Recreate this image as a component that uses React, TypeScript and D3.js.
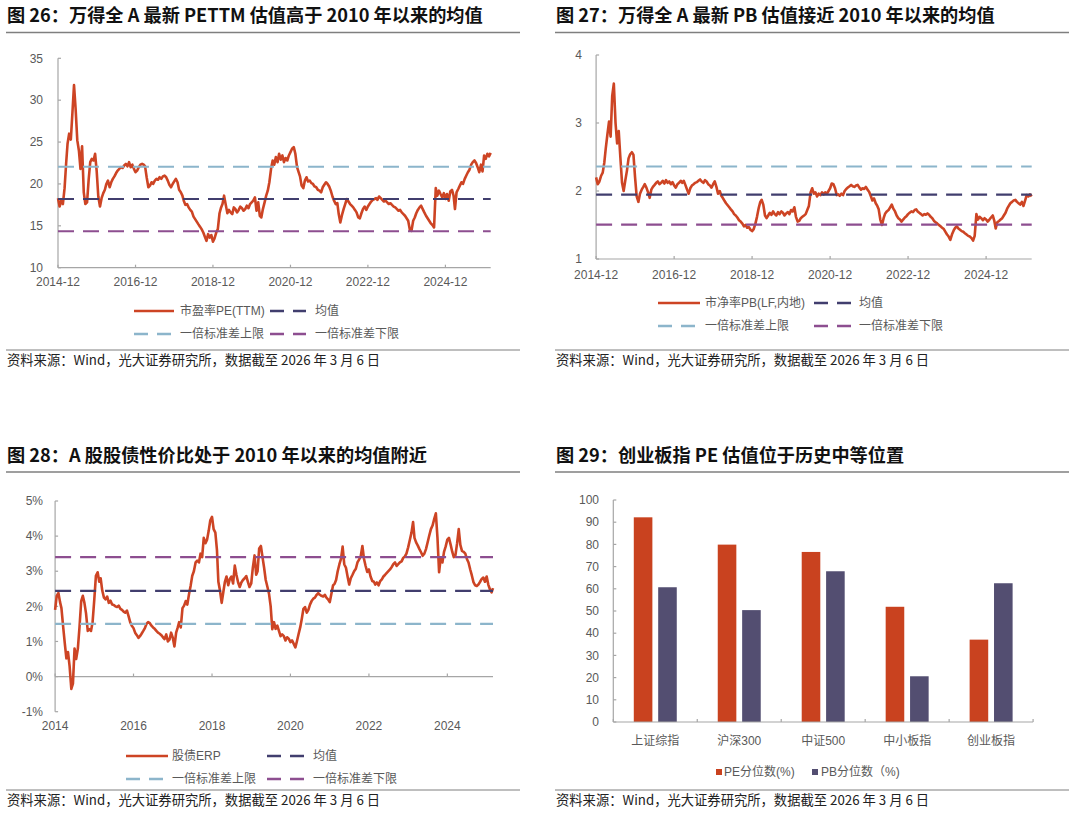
import React from 'react';
import * as d3 from 'd3';

const FONT = '"Liberation Sans", Arial, "Noto Sans CJK SC", sans-serif';
const CJK_FONT = '"Noto Sans CJK SC", "Liberation Sans", sans-serif';

const SERIES = '#cd4424';
const MEAN = '#413e6e';
const BLUE = '#8cb5cb';
const PURPLE = '#8d4e90';
const AXIS = '#a6a6a6';
const TICK_TEXT = '#595959';
const DASH = '16 9';

// semi-monthly samples (1st and 16th of each month)
const halfMonth = (start: [number, number], i: number) =>
  new Date(start[0], start[1] + Math.floor(i / 2), i % 2 ? 16 : 1);

// ---------- Fig 26: Wind All A PE(TTM), from 2014-12 ----------
const peStart: [number, number] = [2014, 11];
const peTtm = [
  18.3, 17.3, 18.0, 17.6, 19.5, 22.5, 24.8, 26.0, 25.3, 28.5,
  31.8, 29.0, 25.2, 24.0, 21.8, 24.5, 19.0, 17.6, 17.8, 20.5,
  22.6, 23.0, 22.8, 23.6, 21.5, 18.5, 17.3, 18.3, 18.9, 19.3,
  20.0, 20.4, 19.6, 20.2, 20.6, 20.9, 21.3, 21.6, 21.8, 22.0,
  21.9, 22.2, 22.4, 22.1, 22.6, 22.0, 22.3, 21.8, 21.4, 21.6,
  22.0, 22.3, 22.4, 22.3, 22.1, 20.8, 19.6, 19.8, 20.2, 20.0,
  20.4, 20.6, 20.5, 20.8, 20.6, 20.9, 21.0, 20.8, 20.4, 19.9,
  19.6, 20.0, 20.3, 20.6, 20.2, 19.3, 19.0, 18.6, 18.0, 17.5,
  17.6, 17.2, 16.9, 16.7, 16.1, 15.8, 15.5, 15.2, 14.9, 14.6,
  14.2, 13.7, 13.2, 14.0, 13.6, 13.9, 13.1, 13.5, 14.2, 14.6,
  16.5, 17.2, 17.6, 18.6, 17.5, 16.5, 16.9, 16.6, 16.4, 17.2,
  17.0, 16.6, 16.9, 17.3, 17.1, 16.8, 17.0, 17.4, 17.1, 17.6,
  17.8, 18.0, 18.4, 16.8, 17.8, 16.2, 16.0, 17.0, 17.8, 18.6,
  19.2, 20.2, 21.8, 22.8, 22.3, 23.2, 22.6, 23.6, 22.9, 23.4,
  22.6, 23.1, 22.8, 23.4, 23.8, 24.2, 24.4, 23.6, 22.0, 21.4,
  20.9, 19.8, 19.5, 20.4, 20.8, 20.3, 20.4, 20.1, 20.0, 19.7,
  19.6, 19.3, 19.2, 19.0, 19.6, 19.9, 20.2, 20.0, 19.7, 19.2,
  18.5, 18.0, 17.6, 17.7, 16.4, 15.4, 16.3, 17.0, 17.6, 18.2,
  17.9, 17.6, 17.4, 17.2, 16.9, 16.6, 16.0, 15.9, 16.5, 17.0,
  17.3, 16.9, 17.3, 17.6, 17.9, 18.1, 18.2, 18.3, 18.1, 18.5,
  18.3, 18.1, 17.9, 18.0, 17.8, 17.6, 17.7, 17.5, 17.3, 17.2,
  17.0, 16.8, 16.9, 16.6, 16.4, 16.2, 15.9, 15.6, 14.5, 14.4,
  15.6, 16.0, 16.5, 16.9, 17.2, 17.4, 17.0, 16.6, 16.2, 15.9,
  15.6, 15.3, 15.1, 14.8, 19.5, 18.6, 19.2, 18.8, 18.4, 18.9,
  18.2, 18.8, 18.0, 19.1, 19.3, 18.6, 17.0, 19.0, 19.4, 19.8,
  20.2, 20.0, 20.6, 21.0, 21.4, 21.7, 22.3, 22.6, 22.8, 22.5,
  22.0, 21.4, 22.3, 21.5, 23.4, 23.0, 23.6, 23.3, 23.7,
];
// mean, +1 std, -1 std
const peRefs = [18.2, 22.05, 14.35];
const peYTicks = [10, 15, 20, 25, 30, 35];
const ymTicks = ['2014-12', '2016-12', '2018-12', '2020-12', '2022-12', '2024-12'];

// ---------- Fig 27: Wind All A PB(LF) ----------
const pbStart: [number, number] = [2014, 11];
const pbLf = [
  2.20, 2.10, 2.14, 2.22, 2.27, 2.42, 2.62, 2.82, 3.02, 2.80,
  3.40, 3.58, 3.00, 2.70, 2.88, 2.50, 2.12, 2.00, 2.16, 2.30,
  2.48, 2.54, 2.57, 2.53, 2.20, 1.92, 1.84, 1.96, 2.02, 2.06,
  2.10, 2.05, 1.98, 1.90, 2.02, 2.06, 2.09, 2.12, 2.14, 2.10,
  2.12, 2.15, 2.11, 2.16, 2.12, 2.14, 2.10, 2.13, 2.08, 2.05,
  2.10, 2.12, 2.15, 2.12, 2.15, 2.09, 2.02, 1.96, 2.04, 2.08,
  2.10, 2.12, 2.13, 2.15, 2.17, 2.14, 2.12, 2.16, 2.14, 2.10,
  2.08, 2.05, 2.10, 2.14, 2.06, 1.96, 2.00, 1.93, 1.90, 1.86,
  1.82, 1.79, 1.76, 1.73, 1.70, 1.66, 1.64, 1.61, 1.57, 1.55,
  1.52, 1.48, 1.50, 1.46, 1.47, 1.43, 1.41, 1.44, 1.52, 1.62,
  1.75, 1.84, 1.87, 1.80, 1.64, 1.60, 1.64, 1.68, 1.65, 1.70,
  1.66, 1.64, 1.69, 1.66, 1.70, 1.68, 1.64, 1.67, 1.69, 1.66,
  1.72, 1.70, 1.76, 1.62, 1.55, 1.56, 1.60, 1.62, 1.64, 1.66,
  1.72, 1.78, 1.98, 2.04, 1.96, 1.98, 1.92, 1.96, 1.94, 1.98,
  1.95, 1.98, 1.96, 2.00, 2.04, 2.11, 2.10, 2.04, 1.94, 1.95,
  1.93, 1.96, 1.94, 2.00, 2.03, 2.05, 2.07, 2.09, 2.07, 2.06,
  2.08, 2.09, 2.05, 2.02, 2.04, 2.03, 2.06, 2.02, 1.99, 1.93,
  1.86, 1.89, 1.82, 1.78, 1.73, 1.58, 1.50, 1.60, 1.67, 1.70,
  1.72, 1.76, 1.80, 1.74, 1.70, 1.64, 1.60, 1.58, 1.55, 1.58,
  1.61, 1.63, 1.66, 1.68, 1.70, 1.69, 1.72, 1.73, 1.70, 1.68,
  1.66, 1.64, 1.66, 1.65, 1.67, 1.65, 1.62, 1.60, 1.56, 1.54,
  1.52, 1.50, 1.48, 1.46, 1.44, 1.40, 1.36, 1.33, 1.28, 1.36,
  1.42, 1.46, 1.48, 1.45, 1.43, 1.41, 1.40, 1.38, 1.36, 1.34,
  1.33, 1.31, 1.27, 1.34, 1.66, 1.58, 1.62, 1.60, 1.57, 1.60,
  1.58, 1.55, 1.58, 1.61, 1.64, 1.56, 1.45, 1.54, 1.56, 1.58,
  1.60, 1.64, 1.68, 1.74, 1.78, 1.82, 1.84, 1.86, 1.87, 1.84,
  1.82, 1.80, 1.84, 1.78, 1.86, 1.94, 1.92, 1.95, 1.92,
];
const pbRefs = [1.946, 2.36, 1.505];
const pbYTicks = [1, 2, 3, 4];

// ---------- Fig 28: equity risk premium, from 2014-01 ----------
const erpStart: [number, number] = [2014, 0];
const erp = [
  1.90, 2.30, 2.38, 2.12, 1.95, 1.45, 0.95, 0.52, 0.70, 0.30,
  -0.35, -0.20, 0.80, 0.50, 0.80, 1.40, 2.15, 2.30, 2.10, 1.80,
  1.30, 1.35, 1.30, 1.55, 2.20, 2.87, 2.97, 2.70, 2.80, 2.45,
  2.25, 2.20, 2.28, 2.10, 2.16, 2.05, 2.04, 2.00, 1.98, 2.02,
  1.93, 1.90, 1.85, 1.82, 1.88, 1.72, 1.55, 1.45, 1.38, 1.25,
  1.18, 1.10, 1.15, 1.22, 1.30, 1.38, 1.50, 1.55, 1.52, 1.45,
  1.40, 1.36, 1.30, 1.25, 1.22, 1.18, 1.12, 1.07, 1.20, 1.00,
  1.05, 1.25, 1.10, 0.86, 1.25, 1.40, 1.55, 1.40, 1.95, 2.02,
  2.15, 2.05, 2.35, 2.59, 2.87, 3.00, 3.25, 3.30, 3.25, 3.50,
  3.40, 3.95, 3.80, 3.90, 4.15, 4.45, 4.55, 4.20, 4.10, 3.60,
  2.70, 2.45, 2.10, 2.40, 2.70, 2.85, 2.60, 2.78, 2.85, 2.65,
  3.16, 2.90, 2.68, 2.55, 2.68, 2.75, 2.80, 2.86, 2.70, 2.55,
  2.65, 3.10, 3.45, 2.90, 3.00, 3.65, 3.72, 3.40, 3.10, 2.75,
  2.55, 2.35, 2.00, 1.35, 1.55, 1.36, 1.45, 1.30, 1.15, 1.20,
  1.15, 1.03, 1.12, 1.08, 0.98, 1.03, 0.93, 0.83, 1.00, 1.20,
  1.40, 1.65, 1.93, 1.98, 1.82, 1.90, 2.05, 2.15, 2.22, 2.25,
  2.33, 2.38, 2.33, 2.30, 2.28, 2.33, 2.25, 2.20, 2.12, 2.35,
  2.60, 2.65, 2.75, 3.00, 3.20, 3.35, 3.70, 3.20, 3.10, 2.85,
  2.62, 2.80, 2.90, 3.00, 3.07, 3.25, 3.33, 3.42, 3.72, 3.35,
  3.15, 2.98, 3.05, 2.85, 2.72, 2.70, 2.62, 2.68, 2.60, 2.72,
  2.77, 2.85, 2.90, 2.95, 3.00, 3.05, 3.12, 3.20, 3.25, 3.15,
  3.20, 3.25, 3.28, 3.38, 3.42, 3.50, 3.68, 3.88, 4.10, 4.40,
  3.95, 3.82, 3.73, 3.63, 3.54, 3.44, 3.50, 3.63, 3.82, 4.01,
  4.20, 4.30, 4.49, 4.65, 3.95, 2.97, 3.40, 3.25, 3.55, 3.70,
  3.90, 3.95, 3.75, 3.55, 3.40, 3.45, 3.80, 4.20, 3.75, 3.58,
  3.55, 3.50, 3.35, 3.25, 3.05, 2.88, 2.68, 2.60, 2.58, 2.62,
  2.70, 2.78, 2.82, 2.70, 2.85, 2.62, 2.48, 2.40, 2.52,
];
// mean, 上限 (drawn blue), 下限 (drawn purple)
const erpRefs = [2.44, 1.5, 3.4];
const erpYTicks = [-1, 0, 1, 2, 3, 4, 5];
const yearTicks = ['2014', '2016', '2018', '2020', '2022', '2024'];

// ---------- Fig 29: percentile bars ----------
const indexNames = ['上证综指', '沪深300', '中证500', '中小板指', '创业板指'];
const pePercentile = [92.2, 79.9, 76.6, 51.9, 37.1];
const pbPercentile = [60.7, 50.4, 67.9, 20.6, 62.5];
const barYTicks = [0, 10, 20, 30, 40, 50, 60, 70, 80, 90, 100];

const SOURCE = '资料来源：Wind，光大证券研究所，数据截至 2026 年 3 月 6 日';

type LegendItem = { label: string; color: string; dashed: boolean; x1: number; x2: number; tx: number; y: number };

interface LineChartProps {
  values: number[];
  start: [number, number];
  xDomain: [Date, Date];
  xRange: [number, number];
  yDomain: [number, number];
  yRange: [number, number];
  yTicks: number[];
  yFormat: (v: number) => string;
  yLabelX: number;
  xTicks: Date[];
  xLabels: string[];
  xLabelY: number;
  xAxisAt: number;
  refs: number[];
  refColors: string[];
  legend: LegendItem[];
}

const LineChart: React.FC<LineChartProps> = (p) => {
  const x = d3.scaleTime().domain(p.xDomain).range(p.xRange);
  const y = d3.scaleLinear().domain(p.yDomain).range(p.yRange);
  const line = d3
    .line<number>()
    .x((_, i) => x(halfMonth(p.start, i)))
    .y((d) => y(d));
  const [xl, xr] = p.xRange;
  const axisY = y(p.xAxisAt);
  return (
    <g>
      <line x1={xl} x2={xl} y1={p.yRange[0]} y2={p.yRange[1]} stroke={AXIS} strokeWidth={1.2} />
      {p.yTicks.map((t) => (
        <g key={t}>
          <line x1={xl} x2={xl + 3} y1={y(t)} y2={y(t)} stroke={AXIS} strokeWidth={1.2} />
          <text x={p.yLabelX} y={y(t)} dy="0.35em" textAnchor="end" fontSize={12} fill={TICK_TEXT} fontFamily={FONT}>
            {p.yFormat(t)}
          </text>
        </g>
      ))}
      <line x1={xl} x2={xr} y1={axisY} y2={axisY} stroke={AXIS} strokeWidth={1.2} />
      {p.xTicks.map((d, i) => (
        <g key={i}>
          <line x1={x(d)} x2={x(d)} y1={axisY - 3} y2={axisY} stroke={AXIS} strokeWidth={1.2} />
          <text x={x(d)} y={p.xLabelY} dy="0.35em" textAnchor="middle" fontSize={12} fill={TICK_TEXT} fontFamily={FONT}>
            {p.xLabels[i]}
          </text>
        </g>
      ))}
      <path d={line(p.values) || ''} fill="none" stroke={SERIES} strokeWidth={2.6} strokeLinejoin="round" />
      {p.refs.map((v, i) => (
        <line key={i} x1={xl} x2={xr} y1={y(v)} y2={y(v)} stroke={p.refColors[i]} strokeWidth={2.2} strokeDasharray={DASH} />
      ))}
      {p.legend.map((l) => (
        <g key={l.label}>
          <line
            x1={l.x1}
            x2={l.x2}
            y1={l.y}
            y2={l.y}
            stroke={l.color}
            strokeWidth={2.4}
            strokeDasharray={l.dashed ? '14 9' : undefined}
          />
          <text x={l.tx} y={l.y} dy="0.35em" fontSize={12} fill={TICK_TEXT} fontFamily={FONT}>
            {l.label}
          </text>
        </g>
      ))}
    </g>
  );
};

const Frame: React.FC<{ x0: number; x1: number; titleY: number; title: string; sourceY: number }> = ({ x0, x1, titleY, title, sourceY }) => (
  <g>
    <text x={x0 + 1} y={titleY} dy="0.35em" fontSize={18.2} fontWeight="bold" fill="#111" fontFamily={CJK_FONT}>
      {title}
    </text>
    <line x1={x0} x2={x1} y1={titleY + 16.5} y2={titleY + 16.5} stroke="#7f7f7f" strokeWidth={1.3} />
    <line x1={x0} x2={x1} y1={sourceY} y2={sourceY} stroke="#7f7f7f" strokeWidth={1} />
    <text x={x0 + 1} y={sourceY + 10.5} dy="0.35em" fontSize={13.3} fill="#222" fontFamily={CJK_FONT}>
      {SOURCE}
    </text>
  </g>
);

const ymDate = (s: string) => d3.timeParse('%Y-%m')(s) as Date;
const yDate = (s: string) => d3.timeParse('%Y')(s) as Date;

const BarChart: React.FC = () => {
  const x = d3.scaleBand<string>().domain(indexNames).range([613.3, 1033.1]);
  const inner = d3.scaleBand<string>().domain(['pe', 'pb']).range([0, x.bandwidth()]).paddingInner(0.238).paddingOuter(0.84);
  const y = d3.scaleLinear().domain([0, 100]).range([722, 500]);
  const [xl, xr] = x.range();
  const bounds = indexNames.map((c) => x(c) as number).concat([xr]);
  return (
    <g>
      {indexNames.map((c, i) => (
        <g key={c}>
          <rect
            x={(x(c) as number) + (inner('pe') as number)}
            y={y(pePercentile[i])}
            width={inner.bandwidth()}
            height={y(0) - y(pePercentile[i])}
            fill="#c9421f"
          />
          <rect
            x={(x(c) as number) + (inner('pb') as number)}
            y={y(pbPercentile[i])}
            width={inner.bandwidth()}
            height={y(0) - y(pbPercentile[i])}
            fill="#534e71"
          />
          <text
            x={(x(c) as number) + x.bandwidth() / 2}
            y={741}
            dy="0.35em"
            textAnchor="middle"
            fontSize={12}
            fill={TICK_TEXT}
            fontFamily={FONT}
          >
            {c}
          </text>
        </g>
      ))}
      <line x1={xl} x2={xl} y1={y(0)} y2={y(100)} stroke={AXIS} strokeWidth={1.2} />
      {barYTicks.map((t) => (
        <g key={t}>
          <line x1={xl} x2={xl + 3} y1={y(t)} y2={y(t)} stroke={AXIS} strokeWidth={1.2} />
          <text x={599} y={y(t)} dy="0.35em" textAnchor="end" fontSize={12} fill={TICK_TEXT} fontFamily={FONT}>
            {t}
          </text>
        </g>
      ))}
      <line x1={xl} x2={xr} y1={y(0)} y2={y(0)} stroke={AXIS} strokeWidth={1.2} />
      {bounds.map((b, i) => (
        <line key={i} x1={b} x2={b} y1={y(0) - 3} y2={y(0)} stroke={AXIS} strokeWidth={1.2} />
      ))}
      <rect x={716} y={769} width={6} height={6} fill="#c9421f" />
      <text x={724} y={772} dy="0.35em" fontSize={12} fill={TICK_TEXT} fontFamily={FONT}>
        PE分位数(%)
      </text>
      <rect x={812} y={769} width={6} height={6} fill="#534e71" />
      <text x={821} y={772} dy="0.35em" fontSize={12} fill={TICK_TEXT} fontFamily={FONT}>
        PB分位数（%)
      </text>
    </g>
  );
};

const legendFor = (name: string, xs: number[], ys: number[], tx: number[]): LegendItem[] => [
  { label: name, color: SERIES, dashed: false, x1: xs[0], x2: xs[1], tx: tx[0], y: ys[0] },
  { label: '均值', color: MEAN, dashed: true, x1: xs[2], x2: xs[3], tx: tx[1], y: ys[0] },
  { label: '一倍标准差上限', color: BLUE, dashed: true, x1: xs[0], x2: xs[1], tx: tx[0], y: ys[1] },
  { label: '一倍标准差下限', color: PURPLE, dashed: true, x1: xs[2], x2: xs[3], tx: tx[1], y: ys[1] },
];

export default function App() {
  const refColors = [MEAN, BLUE, PURPLE];
  return (
    <svg
      width={1080}
      height={820}
      viewBox="0 0 1080 820"
      style={{ position: 'absolute', left: 0, top: 0, background: '#fff' }}
    >
      <Frame x0={6} x1={520} titleY={16} title="图 26：万得全 A 最新 PETTM 估值高于 2010 年以来的均值" sourceY={350} />
      <Frame x0={555} x1={1069} titleY={16} title="图 27：万得全 A 最新 PB 估值接近 2010 年以来的均值" sourceY={350} />
      <Frame x0={6} x1={520} titleY={455.5} title="图 28：A 股股债性价比处于 2010 年以来的均值附近" sourceY={790} />
      <Frame x0={555} x1={1069} titleY={455.5} title="图 29：创业板指 PE 估值位于历史中等位置" sourceY={790} />

      <LineChart
        values={peTtm}
        start={peStart}
        xDomain={[new Date(2014, 11, 1), new Date(2026, 1, 1)]}
        xRange={[58, 490.7]}
        yDomain={[10, 35]}
        yRange={[267.7, 58.3]}
        yTicks={peYTicks}
        yFormat={(v) => String(v)}
        yLabelX={43}
        xTicks={ymTicks.map(ymDate)}
        xLabels={ymTicks}
        xLabelY={282}
        xAxisAt={10}
        refs={peRefs}
        refColors={refColors}
        legend={legendFor('市盈率PE(TTM)', [134, 174, 270, 306], [311, 334], [180, 315])}
      />
      <LineChart
        values={pbLf}
        start={pbStart}
        xDomain={[new Date(2014, 11, 1), new Date(2026, 1, 1)]}
        xRange={[596.1, 1031.7]}
        yDomain={[1, 4]}
        yRange={[259, 55]}
        yTicks={pbYTicks}
        yFormat={(v) => String(v)}
        yLabelX={582}
        xTicks={ymTicks.map(ymDate)}
        xLabels={ymTicks}
        xLabelY={275}
        xAxisAt={1}
        refs={pbRefs}
        refColors={refColors}
        legend={legendFor('市净率PB(LF,内地)', [658, 700, 814, 855], [303, 326], [705, 859])}
      />
      <LineChart
        values={erp}
        start={erpStart}
        xDomain={[new Date(2014, 0, 1), new Date(2025, 2, 1)]}
        xRange={[55.1, 493]}
        yDomain={[-1, 5]}
        yRange={[711.7, 501]}
        yTicks={erpYTicks}
        yFormat={(v) => `${v}%`}
        yLabelX={43}
        xTicks={yearTicks.map(yDate)}
        xLabels={yearTicks}
        xLabelY={726}
        xAxisAt={0}
        refs={erpRefs}
        refColors={refColors}
        legend={legendFor('股债ERP', [126, 168, 267, 309], [756, 779], [172, 313])}
      />
      <BarChart />
    </svg>
  );
}
